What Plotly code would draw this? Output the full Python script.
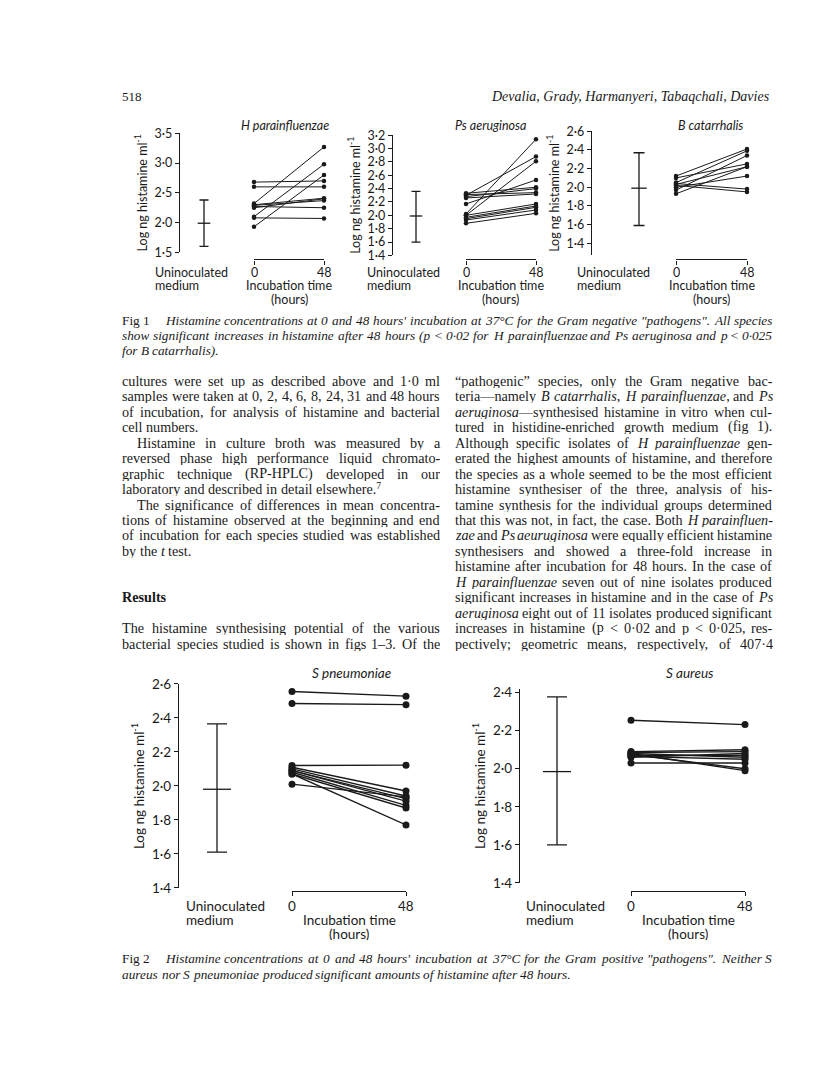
import plotly.graph_objects as go

# ---------------- data (log ng histamine / ml) ----------------
hpara_0 = [2.68, 2.60, 2.32, 2.30, 2.29, 2.27, 2.25, 2.10, 2.08, 1.93]
hpara_48 = [2.70, 2.60, 3.27, 2.41, 2.37, 2.25, 2.40, 2.98, 2.07, 2.80]
psaer_0 = [2.02, 2.30, 2.00, 2.17, 2.33, 2.28, 2.31, 2.26, 2.00, 1.97, 1.93, 1.88, 1.95]
psaer_48 = [3.14, 2.88, 2.81, 2.53, 2.42, 2.40, 2.34, 2.32, 2.17, 2.14, 2.08, 2.03, 2.12]
bcat_0 = [2.12, 2.10, 2.05, 1.97, 2.03, 2.00, 2.04, 2.02, 1.93]
bcat_48 = [2.41, 2.25, 2.39, 2.34, 2.22, 2.12, 1.98, 1.95, 2.22]
spneu_0 = [2.555, 2.485, 2.12, 2.11, 2.10, 2.09, 2.09, 2.08, 2.07, 2.07, 2.01]
spneu_48 = [2.528, 2.478, 2.122, 1.97, 1.94, 1.925, 1.91, 1.885, 1.87, 1.77, 1.935]
saur_0 = [2.255, 2.09, 2.085, 2.08, 2.075, 2.07, 2.065, 2.06, 2.03, 2.08]
saur_48 = [2.232, 2.10, 2.09, 2.06, 2.00, 2.07, 2.05, 2.08, 2.03, 1.99]

ctrl_mean = [1.99, 1.99, 1.99, 1.98, 1.985]
ctrl_lo = [1.60, 1.60, 1.59, 1.61, 1.60]
ctrl_hi = [2.38, 2.36, 2.37, 2.365, 2.378]

species = ["H parainfluenzae", "Ps aeruginosa", "B catarrhalis", "S pneumoniae", "S aureus"]
times = [0, 48]
time_labels = ["0", "48"]
y_ticks = [
    [1.5, 2.0, 2.5, 3.0, 3.5],
    [1.4, 1.6, 1.8, 2.0, 2.2, 2.4, 2.6, 2.8, 3.0, 3.2],
    [1.4, 1.6, 1.8, 2.0, 2.2, 2.4, 2.6],
    [1.4, 1.6, 1.8, 2.0, 2.2, 2.4, 2.6],
    [1.4, 1.6, 1.8, 2.0, 2.2, 2.4],
]
y_ranges = [[1.5, 3.5], [1.4, 3.2], [1.27, 2.6], [1.4, 2.6], [1.4, 2.42]]
starts = [hpara_0, psaer_0, bcat_0, spneu_0, saur_0]
ends = [hpara_48, psaer_48, bcat_48, spneu_48, saur_48]

# ---------------- page text ----------------
cap1_lead = "Fig 1"
cap1 = [
    "<i>Histamine concentrations at 0 and 48 hours' incubation at 37°C for the Gram negative \"pathogens\". All species</i>",
    "<i>show significant increases in histamine after 48 hours (p < 0·02 for H parainfluenzae and Ps aeruginosa and p < 0·025</i>",
    "<i>for B catarrhalis).</i>",
]
cap2_lead = "Fig 2"
cap2 = [
    "<i>Histamine concentrations at 0 and 48 hours' incubation at 37°C for the Gram positive \"pathogens\". Neither S</i>",
    "<i>aureus nor S pneumoniae produced significant amounts of histamine after 48 hours.</i>",
]
# (indent, text, justify)
left_col = [
    (0, "cultures were set up as described above and 1·0 ml", True),
    (0, "samples were taken at 0, 2, 4, 6, 8, 24, 31 and 48 hours", True),
    (0, "of incubation, for analysis of histamine and bacterial", True),
    (0, "cell numbers.", False),
    (15, "Histamine in culture broth was measured by a", True),
    (0, "reversed phase high performance liquid chromato-", True),
    (0, "graphic technique (RP-HPLC) developed in our", True),
    (0, "laboratory and described in detail elsewhere.⁷", False),
    (15, "The significance of differences in mean concentra-", True),
    (0, "tions of histamine observed at the beginning and end", True),
    (0, "of incubation for each species studied was established", True),
    (0, "by the <i>t</i> test.", False),
    None,
    None,
    (0, "<b>Results</b>", False),
    None,
    (0, "The histamine synthesising potential of the various", True),
    (0, "bacterial species studied is shown in figs 1–3. Of the", True),
]
right_col = [
    "“pathogenic” species, only the Gram negative bac-",
    "teria—namely <i>B catarrhalis</i>, <i>H parainfluenzae</i>, and <i>Ps</i>",
    "<i>aeruginosa</i>—synthesised histamine in vitro when cul-",
    "tured in histidine-enriched growth medium (fig 1).",
    "Although specific isolates of <i>H parainfluenzae</i> gen-",
    "erated the highest amounts of histamine, and therefore",
    "the species as a whole seemed to be the most efficient",
    "histamine synthesiser of the three, analysis of his-",
    "tamine synthesis for the individual groups determined",
    "that this was not, in fact, the case. Both <i>H parainfluen-</i>",
    "<i>zae</i> and <i>Ps aeuruginosa</i> were equally efficient histamine",
    "synthesisers and showed a three-fold increase in",
    "histamine after incubation for 48 hours. In the case of",
    "<i>H parainfluenzae</i> seven out of nine isolates produced",
    "significant increases in histamine and in the case of <i>Ps</i>",
    "<i>aeruginosa</i> eight out of 11 isolates produced significant",
    "increases in histamine (p < 0·02 and p < 0·025, res-",
    "pectively; geometric means, respectively, of 407·4",
]

# ---------------- page geometry (pixels) ----------------
W, H = 816, 1075
def fx(x): return x / W
def fy(y): return 1 - y / H

geo = [
    dict(ax=171, ytop=119, ybot=240, ex=196, x0=246, x48=316, br=247, tx=277, ty=111, ul=146, lab=260, ms=4.5, lw=1.0, cap=4.5, fs=12.5),
    dict(ax=384, ytop=121, ybot=243, ex=408, x0=458, x48=528, br=247, tx=483, ty=111, ul=358, lab=260, ms=4.5, lw=1.0, cap=4.5, fs=12.5),
    dict(ax=583, ytop=117, ybot=243, ex=631, x0=668, x48=739, br=247, tx=702, ty=111, ul=568, lab=260, ms=4.5, lw=1.0, cap=5.5, fs=12.5),
    dict(ax=170, ytop=678, ybot=885, ex=209, x0=284, x48=398, br=888, tx=343, ty=667, ul=177, lab=903, ms=7, lw=1.4, cap=10, fs=13.5),
    dict(ax=511, ytop=683, ybot=880, ex=549, x0=623, x48=737, br=888, tx=682, ty=667, ul=517, lab=903, ms=7, lw=1.4, cap=10, fs=13.5),
]

SANS = "Lato"
SERIF = "Liberation Serif"
INK = "#1a1a1a"

fig = go.Figure()
layout = dict(width=W, height=H, margin=dict(l=0, r=0, t=0, b=0),
              paper_bgcolor="white", plot_bgcolor="rgba(0,0,0,0)",
              showlegend=False)
annotations = []

def ann(x, y, text, size, family, xanchor="left", yanchor="middle", color=INK, h=None):
    a = dict(x=fx(x), y=fy(y), xref="paper", yref="paper", text=text,
             showarrow=False, xanchor=xanchor, yanchor=yanchor, borderpad=0,
             font=dict(family=family, size=size, color=color))
    if h is not None:
        a["height"] = h
        a["valign"] = "middle"
    annotations.append(a)

for k, g in enumerate(geo, start=1):
    xl = 2 * k - 1   # axis for isolate lines
    xe = 2 * k       # hidden axis for control error bar
    ytxt = [f"{v:.1f}".replace(".", "·") for v in y_ticks[k - 1]]
    layout[f"yaxis{k}"] = dict(
        domain=[fy(g["ybot"]), fy(g["ytop"])], range=y_ranges[k - 1],
        anchor="free", position=fx(g["ax"]),
        tickvals=y_ticks[k - 1], ticktext=ytxt, ticks="outside", ticklen=4,
        tickwidth=1.3, tickcolor=INK, showline=True, linecolor=INK, linewidth=1.4,
        showgrid=False, zeroline=False,
        tickfont=dict(family=SANS, size=g["fs"], color=INK),
        title=dict(text="Log ng histamine ml<sup>-1</sup>", standoff=3,
                   font=dict(family=SANS, size=g["fs"], color=INK)))
    layout[f"xaxis{xl}"] = dict(
        domain=[fx(g["x0"]), fx(g["x48"])], range=[0, 48],
        anchor="free", position=fy(g["br"]),
        tickvals=times, ticks="outside", ticklen=4, showticklabels=False,
        tickwidth=1.3, tickcolor=INK, showline=True, linecolor=INK, linewidth=1.4,
        showgrid=False, zeroline=False)
    layout[f"xaxis{xe}"] = dict(
        domain=[fx(g["ex"] - 20), fx(g["ex"] + 20)], range=[0, 1],
        anchor=f"y{k}", visible=False)

    for a, b in zip(starts[k - 1], ends[k - 1]):
        fig.add_trace(go.Scatter(
            x=times, y=[a, b], xaxis=f"x{xl}", yaxis=f"y{k}", mode="lines+markers",
            line=dict(color=INK, width=g["lw"]), marker=dict(color=INK, size=g["ms"]),
            cliponaxis=False, hoverinfo="skip"))

    m = ctrl_mean[k - 1]
    fig.add_trace(go.Scatter(
        x=[0.5], y=[m], xaxis=f"x{xe}", yaxis=f"y{k}", mode="markers",
        marker=dict(symbol="line-ew", size=2 * g["cap"], line=dict(color=INK, width=1.3)),
        error_y=dict(type="data", symmetric=False, array=[ctrl_hi[k - 1] - m],
                     arrayminus=[m - ctrl_lo[k - 1]], color=INK, thickness=1.3,
                     width=g["cap"]),
        cliponaxis=False, hoverinfo="skip"))

    fs = g["fs"]
    ann(g["tx"], g["ty"], f"<i>{species[k - 1]}</i>", fs, SANS, xanchor="center")
    ann(g["ul"], g["lab"], "Uninoculated", fs, SANS, h=13)
    ann(g["ul"], g["lab"] + 14, "medium", fs, SANS, h=13)
    ann(g["x0"], g["lab"], time_labels[0], fs, SANS, xanchor="center", h=13)
    ann(g["x48"], g["lab"], time_labels[1], fs, SANS, xanchor="center", h=13)
    ann((g["x0"] + g["x48"]) / 2, g["lab"] + 14, "Incubation time", fs, SANS, xanchor="center", h=13)
    ann((g["x0"] + g["x48"]) / 2, g["lab"] + 28, "(hours)", fs, SANS, xanchor="center", h=13)

# ---------------- justified serif text (Times metrics, 1/1000 em) ----------------
ROMAN = dict(zip("abcdefghijklmnopqrstuvwxyz",
                 [444, 500, 444, 500, 444, 333, 500, 500, 278, 278, 500, 278, 778,
                  500, 500, 500, 500, 333, 389, 278, 500, 500, 722, 500, 500, 444]))
ROMAN.update(zip("ABCDEFGHIJKLMNOPQRSTUVWXYZ",
                 [722, 667, 667, 722, 611, 556, 722, 722, 333, 389, 722, 611, 889,
                  722, 722, 556, 722, 667, 556, 611, 722, 722, 944, 722, 722, 611]))
ITAL = dict(zip("abcdefghijklmnopqrstuvwxyz",
                [500, 500, 444, 500, 444, 278, 500, 500, 278, 278, 444, 278, 722,
                 500, 500, 500, 500, 389, 389, 278, 500, 444, 667, 444, 444, 389]))
ITAL.update(zip("ABCDEFGHIJKLMNOPQRSTUVWXYZ",
                [611, 611, 667, 722, 611, 611, 722, 722, 333, 444, 667, 556, 833,
                 667, 722, 611, 722, 611, 500, 556, 722, 611, 833, 611, 556, 556]))
PUNCT = {",": 250, ".": 250, ";": 278, ":": 278, "-": 333, "(": 333, ")": 333,
         "“": 444, "”": 444, "\"": 420, "'": 214, "—": 1000, "–": 500, "·": 250,
         "<": 564, "°": 400, "⁷": 300}

def cw(c, it):
    if c.isdigit():
        return 500
    t = ITAL if it else ROMAN
    return t.get(c, PUNCT.get(c, 500))

def parse(line):
    out, it, i = [], False, 0
    while i < len(line):
        if line.startswith("<i>", i):
            it = True; i += 3; continue
        if line.startswith("</i>", i):
            it = False; i += 4; continue
        out.append((line[i], it)); i += 1
    return out

def split_words(chars):
    words, cur = [], []
    for c, it in chars:
        if c == " ":
            if cur:
                words.append(cur); cur = []
        else:
            cur.append((c, it))
    if cur:
        words.append(cur)
    return words

ESC = {"<": "&lt;", ">": "&gt;", "&": "&amp;"}

def word_html(w):
    s, it = "", False
    for c, i2 in w:
        if i2 and not it:
            s += "<i>"; it = True
        if not i2 and it:
            s += "</i>"; it = False
        if c == "⁷":
            s += "<sup>7</sup>"
        else:
            s += ESC.get(c, c)
    if it:
        s += "</i>"
    return s

def place_line(xl, xr, y, line, size, justify):
    ws = split_words(parse(line))
    wd = [sum(cw(c, it) for c, it in w) * size / 1000 for w in ws]
    gap = 250 * size / 1000
    if justify and len(ws) > 1:
        gap = (xr - xl - sum(wd)) / (len(ws) - 1)
    x = xl
    for w, d in zip(ws, wd):
        ann(x, y, word_html(w), size, SERIF, h=15)
        x += d + gap

BODY = 14.2
LX0, LX1, RX0, RX1 = 113, 431, 446, 763
LINE0, STEP = 370, 15.68

ann(113, 82, "518", 13, SERIF)
ann(763, 82, "<i>Devalia, Grady, Harmanyeri, Tabaqchali, Davies</i>", 14, SERIF, xanchor="right")

CAP = 13.3
def caption(lead, lines, y0):
    lead_w = sum(cw(c, False) for c in lead) * CAP / 1000
    ann(LX0, y0, lead, CAP, SERIF, h=15)
    for i, t in enumerate(lines):
        xl = LX0 + lead_w + 12 if i == 0 else LX0
        place_line(xl, RX1, y0 + 15.5 * i, t, CAP, i < len(lines) - 1)

caption(cap1_lead, cap1, 309)
caption(cap2_lead, cap2, 957)

for i, item in enumerate(left_col):
    if item is None:
        continue
    ind, t, just = item
    y = LINE0 + STEP * i
    if t.startswith("<b>"):
        ann(LX0, y, t, BODY, SERIF, h=15)
    else:
        place_line(LX0 + ind, LX1, y, t, BODY, just)
for i, t in enumerate(right_col):
    place_line(RX0, RX1, LINE0 + STEP * i, t, BODY, True)

layout["annotations"] = annotations
fig.update_layout(**layout)
fig.write_html("out.html")
